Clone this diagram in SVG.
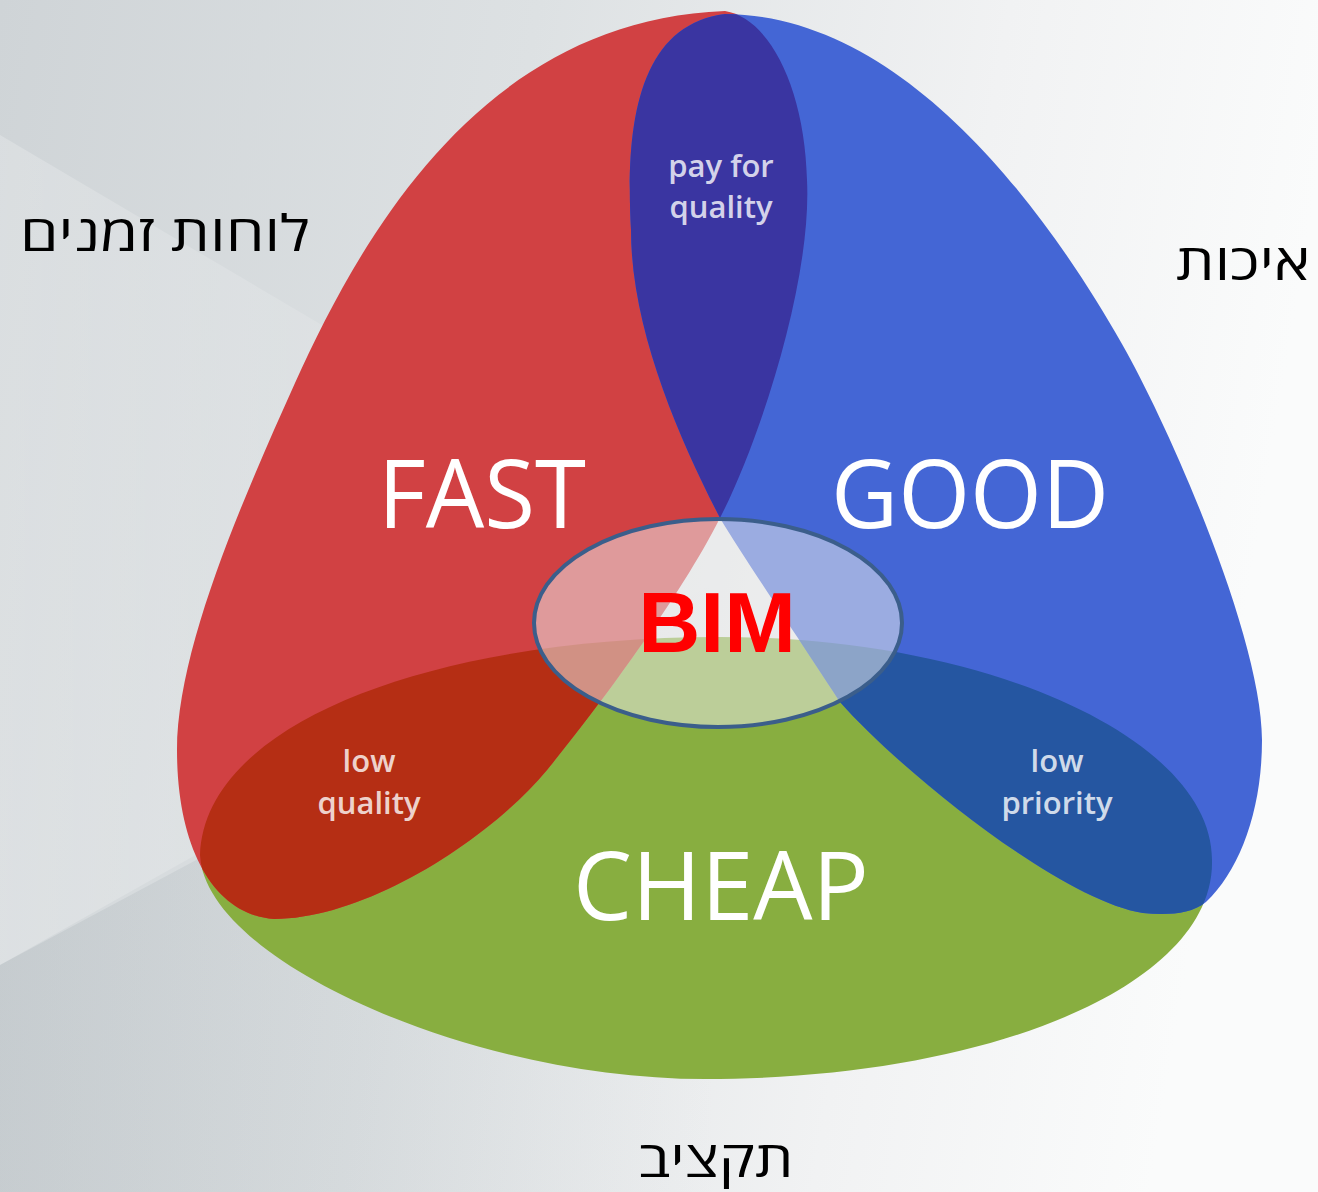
<svg xmlns="http://www.w3.org/2000/svg" width="1318" height="1192" viewBox="0 0 1318 1192">
  <defs>
    <linearGradient id="bg" x1="0" y1="0" x2="1" y2="0.15">
      <stop offset="0" stop-color="#cfd4d7"/>
      <stop offset="0.4" stop-color="#dde1e3"/>
      <stop offset="0.75" stop-color="#f1f2f3"/>
      <stop offset="1" stop-color="#fafbfb"/>
    </linearGradient>
    <linearGradient id="fadeDark" x1="0" y1="0" x2="1" y2="0">
      <stop offset="0" stop-color="#7f8c93" stop-opacity="0.16"/>
      <stop offset="1" stop-color="#7f8c93" stop-opacity="0"/>
    </linearGradient>
    <linearGradient id="fadeLight" x1="0" y1="0" x2="1" y2="0">
      <stop offset="0" stop-color="#ffffff" stop-opacity="0.22"/>
      <stop offset="1" stop-color="#ffffff" stop-opacity="0"/>
    </linearGradient>
    <path id="redShape" d="M 725,11 C 480,20 360,240 295,383 C 241,503 177,650 177,750 C 177,850 215,915 274,919 C 364,919 487,842 547,770 C 590,718 680,598 720,518 C 760,440 812,280 807,180 C 805,90 770,18 725,11 Z"/>
    <path id="blueShape" d="M 720,518 C 680,440 631,330 631,230 C 625,120 640,25 725,14 C 900,15 1040,200 1122,344 C 1172,432 1262,640 1262,740 C 1262,810 1240,870 1206,902 C 1190,915 1165,915 1143,913 C 1060,900 900,770 840,702 C 810,655 745,560 720,518 Z"/>
    <path id="greenShape" d="M 200,855 C 205,720 440,637 720,637 C 990,637 1212,740 1212,860 C 1215,985 990,1079 705,1079 C 470,1079 205,960 200,855 Z"/>
    <clipPath id="clipRed"><use href="#redShape"/></clipPath>
    <clipPath id="clipBlue"><use href="#blueShape"/></clipPath>
    <style>
      .big { font-family: "Open Sans", "Lato", "Liberation Sans", sans-serif; font-weight: 400; font-size: 96px; fill: #ffffff; text-anchor: middle; }
      .small { font-family: "Open Sans", "Liberation Sans", sans-serif; font-weight: 600; font-size: 31px; fill: #ffffff; fill-opacity: 0.8; text-anchor: middle; }
      .heb { font-family: "Open Sans", "Liberation Sans", "DejaVu Sans", sans-serif; font-size: 50px; fill: #000000; text-anchor: middle; }
      .bim { font-family: "Liberation Sans", Arial, sans-serif; font-weight: bold; font-size: 86px; fill: #ff0000; text-anchor: middle; }
    </style>
  </defs>

  <g id="background">
    <rect x="0" y="0" width="1318" height="1192" fill="url(#bg)"/>
    <polygon points="0,135 720,560 0,965" fill="url(#fadeLight)"/>
    <polygon points="0,965 720,580 720,1192 0,1192" fill="url(#fadeDark)"/>
  </g>

  <g id="connectors"/>

  <g id="cheap">
    <use href="#greenShape" fill="#88ae40"/>
  </g>
  <g id="fast">
    <use href="#redShape" fill="#d14143"/>
  </g>
  <g id="good">
    <use href="#blueShape" fill="#4466d5"/>
  </g>

  <g id="pay-for-quality">
    <use href="#blueShape" fill="#3a35a1" clip-path="url(#clipRed)"/>
    <text class="small" x="721" y="177">pay for</text>
    <text class="small" x="721" y="218">quality</text>
  </g>
  <g id="low-quality">
    <use href="#greenShape" fill="#b52e14" clip-path="url(#clipRed)"/>
    <text class="small" x="369" y="772">low</text>
    <text class="small" x="369" y="814">quality</text>
  </g>
  <g id="low-priority">
    <use href="#greenShape" fill="#2556a1" clip-path="url(#clipBlue)"/>
    <text class="small" x="1057" y="772">low</text>
    <text class="small" x="1057" y="814">priority</text>
  </g>

  <g id="labels">
    <text class="big" x="482" y="528" textLength="208" lengthAdjust="spacingAndGlyphs">FAST</text>
    <text class="big" x="970" y="528" textLength="278" lengthAdjust="spacingAndGlyphs">GOOD</text>
    <text class="big" x="721" y="920" textLength="296" lengthAdjust="spacingAndGlyphs">CHEAP</text>
  </g>

  <g id="bim">
    <ellipse cx="718" cy="623" rx="184" ry="104" fill="#ececec" fill-opacity="0.52" stroke="#3b5e8b" stroke-width="4"/>
    <text class="bim" x="717" y="652">BIM</text>
  </g>

  <g id="hebrew-labels">
    <text class="heb" x="165" y="251" textLength="290" lengthAdjust="spacingAndGlyphs">לוחות זמנים</text>
    <text class="heb" x="1243" y="280" textLength="134" lengthAdjust="spacingAndGlyphs">איכות</text>
    <text class="heb" x="716" y="1177" textLength="155" lengthAdjust="spacingAndGlyphs">תקציב</text>
  </g>
</svg>
